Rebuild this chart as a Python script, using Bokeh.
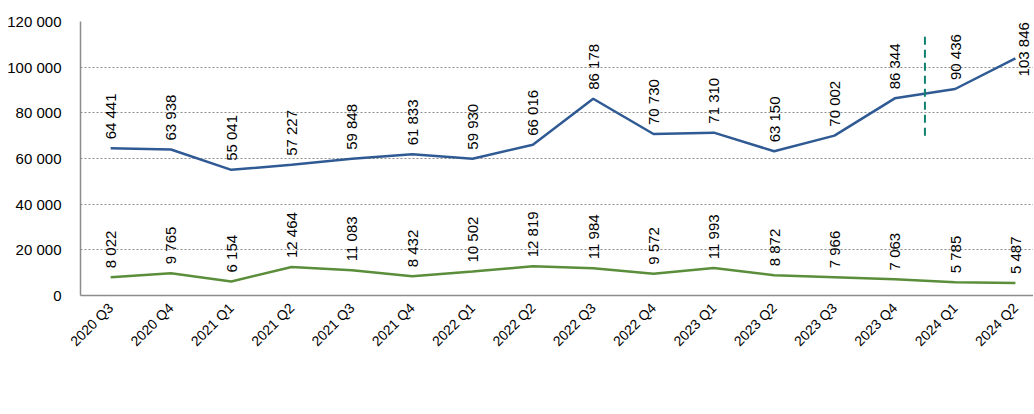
import math
from bokeh.plotting import figure
from bokeh.models import (ColumnDataSource, FixedTicker, LabelSet, Label, Legend,
                          LegendItem, Range1d)
from bokeh.core.properties import value
from bokeh.embed import file_html
from bokeh.resources import INLINE

quarters = ["2020 Q3", "2020 Q4", "2021 Q1", "2021 Q2", "2021 Q3", "2021 Q4",
            "2022 Q1", "2022 Q2", "2022 Q3", "2022 Q4", "2023 Q1", "2023 Q2",
            "2023 Q3", "2023 Q4", "2024 Q1", "2024 Q2"]
issuers = [64441, 63938, 55041, 57227, 59848, 61833, 59930, 66016, 86178,
           70730, 71310, 63150, 70002, 86344, 90436, 103846]
acquirers = [8022, 9765, 6154, 12464, 11083, 8432, 10502, 12819, 11984,
             9572, 11993, 8872, 7966, 7063, 5785, 5487]
y_ticks = [0, 20000, 40000, 60000, 80000, 100000, 120000]
y_tick_labels = ["0", "20 000", "40 000", "60 000", "80 000", "100 000", "120 000"]
series_names = ["liczba oszustw kartowych wg wydawców kart płatniczych",
                "liczba oszustw kartowych wg agentów rozliczeniowych"]
split_x = 13.5
split_y = [70000, 115000]

BLUE = "#2F5A94"
GREEN = "#5A8E3A"
TEAL = "#10806F"
AXIS = "#8C8C8C"
FONT = "Liberation Sans"

def fmt(v):
    return f"{v:,}".replace(",", " ")

xs = list(range(len(quarters)))
src_i = ColumnDataSource(dict(x=xs, y=issuers))
src_a = ColumnDataSource(dict(x=xs, y=acquirers, t=[fmt(v) for v in acquirers]))

p = figure(frame_width=953, frame_height=274, output_backend="svg",
           toolbar_location=None, x_range=Range1d(-0.5, 15.3),
           y_range=Range1d(0, 120000),
           min_border_left=80, min_border_top=21,
           min_border_right=0, min_border_bottom=0)
p.outline_line_color = None
p.background_fill_color = "white"

r1 = p.line("x", "y", source=src_i, line_color=BLUE, line_width=2.5)
r2 = p.line("x", "y", source=src_a, line_color=GREEN, line_width=2.5)
p.segment(x0=[split_x], y0=[split_y[0]], x1=[split_x], y1=[split_y[1]],
          line_color=TEAL, line_width=2, line_dash="8 5")

# data labels
lab_src_i = ColumnDataSource(dict(x=xs[:-1], y=issuers[:-1], t=[fmt(v) for v in issuers[:-1]]))
for s in (lab_src_i, src_a):
    p.add_layout(LabelSet(x="x", y="y", text="t", source=s, angle=math.pi / 2,
                          text_align="left", text_baseline="middle",
                          y_offset=9, text_font=value(FONT), text_font_size=value("15px"),
                          text_color="black"))
p.add_layout(Label(x=xs[-1], y=issuers[-1], text=fmt(issuers[-1]), angle=math.pi / 2,
                   text_align="left", text_baseline="middle", x_offset=8, y_offset=-18,
                   text_font=FONT, text_font_size="15px", text_color="black"))

# axes
p.xaxis.ticker = FixedTicker(ticks=xs)
p.xaxis.major_label_overrides = {i: q for i, q in enumerate(quarters)}
p.xaxis.major_label_orientation = math.pi / 4
p.yaxis.ticker = FixedTicker(ticks=y_ticks)
p.yaxis.major_label_overrides = {t: l for t, l in zip(y_ticks, y_tick_labels)}
for ax in (p.xaxis, p.yaxis):
    ax.major_tick_line_color = None
    ax.minor_tick_line_color = None
    ax.axis_line_color = AXIS
    ax.axis_line_width = 1.5
    ax.major_label_text_font = FONT
    ax.major_label_text_color = "black"
p.yaxis.major_label_text_font_size = "15px"
p.xaxis.major_label_text_font_size = "14px"
p.yaxis.major_label_standoff = 13
p.xaxis.major_label_standoff = 4

p.xgrid.grid_line_color = None
p.ygrid.grid_line_color = AXIS
p.ygrid.grid_line_dash = "2 2"
p.ygrid.grid_line_width = 1

legend = Legend(items=[LegendItem(label=series_names[0], renderers=[r1]),
                       LegendItem(label=series_names[1], renderers=[r2])],
                orientation="horizontal", location="center",
                border_line_color=None, background_fill_alpha=0,
                label_text_font=FONT, label_text_font_size="15.7px",
                glyph_width=16, glyph_height=16, label_height=16,
                label_standoff=2, spacing=48, padding=0, margin=0)
p.add_layout(legend, "below")

open("out.html", "w").write(file_html(p, INLINE))
